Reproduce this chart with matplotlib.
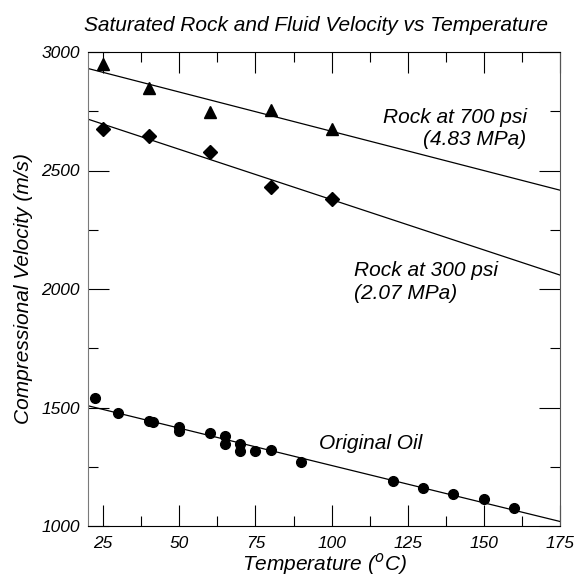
import numpy as np
import matplotlib.pyplot as plt
from matplotlib.ticker import MultipleLocator

plt.rcParams['font.family'] = ['Liberation Sans', 'DejaVu Sans']
plt.rcParams['font.style'] = 'italic'

# rock at 700 psi (triangles)
t700 = [25, 40, 60, 80, 100]
v700 = [2948, 2849, 2745, 2755, 2676]

# rock at 300 psi (diamonds)
t300 = [25, 40, 60, 80, 100]
v300 = [2674, 2647, 2579, 2432, 2381]

# original oil (circles)
t_oil = [22.3, 30, 40, 41.2, 50, 50, 60, 65, 65, 70, 70, 75, 80, 90,
         120, 130, 140, 150, 160]
v_oil = [1539, 1478, 1444, 1439, 1419, 1402, 1391, 1381, 1347, 1347, 1316,
         1318, 1320, 1271, 1190, 1159, 1134, 1115, 1075]

x_ticks = [25, 50, 75, 100, 125, 150, 175]
y_ticks = [1000, 1500, 2000, 2500, 3000]


def fit_line(x, y, xr):
    k, b = np.polyfit(x, y, 1)
    xr = np.asarray(xr)
    return xr, k * xr + b


fig = plt.figure(figsize=(5.86, 5.77), dpi=100)
ax = fig.add_axes([88 / 586, 51 / 577, 472 / 586, 474 / 577])

xr = [20, 175]
for x, y, m, ms in [(t700, v700, '^', 9), (t300, v300, 'D', 7), (t_oil, v_oil, 'o', 7)]:
    lx, ly = fit_line(x, y, xr)
    ax.plot(lx, ly, color='black', lw=0.9)
    ax.plot(x, y, m, color='black', ms=ms, ls='none')

ax.set_xlim(20, 175)
ax.set_ylim(1000, 3000)
ax.set_xticks(x_ticks)
ax.set_yticks(y_ticks)
ax.xaxis.set_minor_locator(MultipleLocator(12.5))
ax.yaxis.set_minor_locator(MultipleLocator(250))
ax.tick_params(which='both', direction='in', top=True, right=True, labelsize=12.5)
ax.tick_params(axis='y', pad=6)
ax.tick_params(axis='x', pad=7)
ax.tick_params(which='major', length=15, width=0.8)
ax.tick_params(which='minor', length=7, width=0.8)
for s in ax.spines.values():
    s.set_linewidth(0.8)
ax.spines['left'].set_color('#7a7a7a')
ax.spines['right'].set_color('#555555')

ax.set_xlabel('Temperature ($^{\\mathit{o}}$C)', fontsize=15, labelpad=0.5)
ax.set_ylabel('Compressional Velocity (m/s)', fontsize=15)
ax.yaxis.set_label_coords((33 - 88) / 472, 0.5)
ax.set_title('Saturated Rock and Fluid Velocity vs Temperature', fontsize=15,
             x=(316 - 88) / 472, pad=15)

ax.text(164, 2725, 'Rock at 700 psi', fontsize=15, ha='right', va='center')
ax.text(164, 2630, '(4.83 MPa)', fontsize=15, ha='right', va='center')
ax.text(107.5, 2080, 'Rock at 300 psi', fontsize=15, ha='left', va='center')
ax.text(107.5, 1980, '(2.07 MPa)', fontsize=15, ha='left', va='center')
ax.text(95.7, 1347, 'Original Oil', fontsize=15, ha='left', va='center')

fig.savefig('out.png', dpi=100)
